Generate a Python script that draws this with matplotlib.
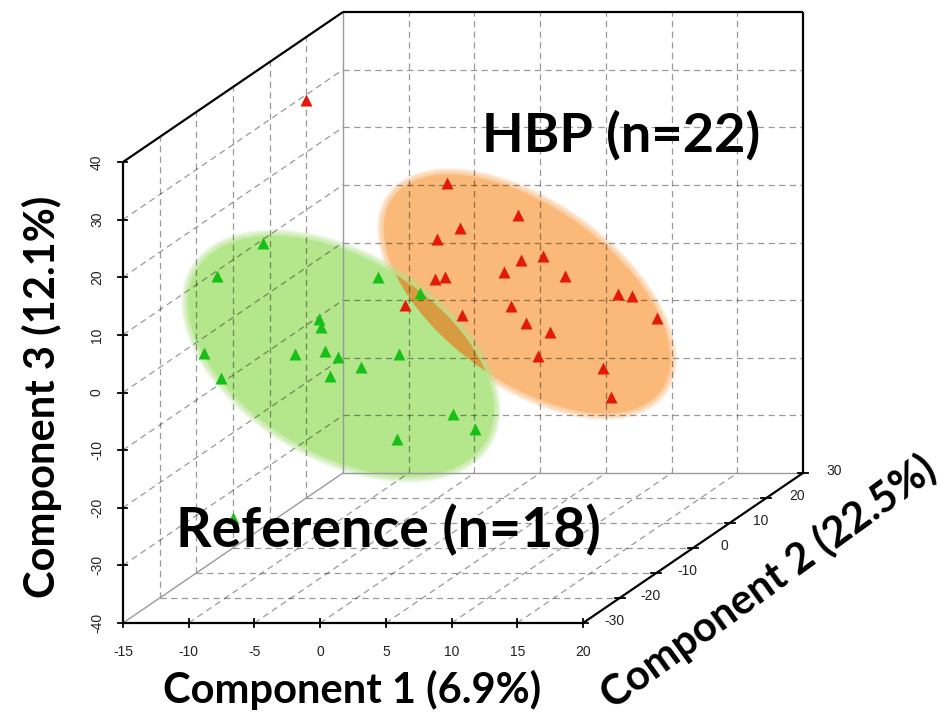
import numpy as np
import matplotlib
matplotlib.use("Agg")
import matplotlib.pyplot as plt
from matplotlib.patches import Ellipse

# PLS-DA scores (component 1, component 2, component 3)
hbp_c1 = [-15.0, -1.5, 2.5, 0.9, -2.3, 3.0, 4.1, 4.2, 6.1, -1.0, 1.1,
          8.7, 11.2, 3.4, 1.0, 4.5, 11.7, 4.9, -1.9, 5.4, 9.0, 11.0]
hbp_c2 = [20, 10, 15, 5, 10, 20, 10, 5, 15, 5, 0,
          20, 15, 10, 5, 10, 20, 15, 0, 10, 15, 10]
hbp_c3 = [29.1, 19.0, 11.3, 13.4, 9.3, 2.0, 5.6, 5.7, 0.7, 4.5, 7.0,
          -4.6, -2.8, -2.3, -1.7, -5.3, -8.8, -9.0, 2.2, -11.0, -15.3, -18.1]

ref_c1 = [-9.9, -12.0, -2.6, -0.8, -5.7, -4.1, -11.6, -7.5, -6.6, -2.8,
          -1.0, -10.3, -4.8, -1.1, 3.1, 6.2, 1.7, -8.0]
ref_c2 = [-10, -15, -5, 0, -10, -15, -20, -10, -5, -15,
          -5, -20, -10, -15, -5, -10, -15, -25]
ref_c3 = [17.3, 13.7, 9.2, 4.3, 4.1, 4.9, 2.5, -2.0, -3.6, -0.3,
          -4.2, -1.8, -5.8, -2.1, -14.6, -15.0, -14.6, -24.0]

x_ticks = list(range(-15, 21, 5))
y_ticks = list(range(-30, 31, 10))
z_ticks = list(range(-40, 41, 10))

# oblique (scatterplot3d-like) projection, in figure pixels
X0, Z0 = 123, 623
SX = 460 / 35.0
SZ = 461 / 80.0
DX, DY = 220 / 60.0, 150 / 60.0
xmin, xmax = x_ticks[0], x_ticks[-1]
ymin, ymax = y_ticks[0], y_ticks[-1]
zmin, zmax = z_ticks[0], z_ticks[-1]


def proj(x, y, z):
    x, y, z = np.asarray(x, float), np.asarray(y, float), np.asarray(z, float)
    px = X0 + (x - xmin) * SX + (y - ymin) * DX
    py = Z0 - (z - zmin) * SZ - (y - ymin) * DY
    return px, py


def seg(ax, p, q, **kw):
    a = proj(*p)
    b = proj(*q)
    ax.plot([a[0], b[0]], [a[1], b[1]], **kw)


fig = plt.figure(figsize=(9.53, 7.18), dpi=100)
ax = fig.add_axes([0, 0, 1, 1])
ax.set_xlim(0, 953)
ax.set_ylim(718, 0)
ax.axis("off")


# group ellipses with blurred edges
def soft_ellipse(xy, w, h, ang, col, z):
    for k in np.arange(14, 0, -1.5):
        ax.add_patch(Ellipse(xy, w + k, h + k, angle=ang, fc=col, ec="none",
                             alpha=0.12, zorder=z))
    e = Ellipse(xy, w, h, angle=ang, fc=col, ec="none", zorder=z)
    ax.add_patch(e)
    return e

e_orange = soft_ellipse((527, 294), 330, 174, 35.7, "#fab978", 1)
e_green = soft_ellipse((341, 356), 336, 196, 30.6, "#b4e68c", 1.1)
overlap = Ellipse((341, 356), 336, 196, angle=30.6, fc="#d89c40", ec="none",
                  zorder=1.2)
ax.add_patch(overlap)
overlap.set_clip_path(e_orange)

grid_kw = dict(color="black", alpha=0.4, lw=0.9, ls=(0, (5, 3.5)), zorder=2)
# back face
for xt in x_ticks[1:-1]:
    seg(ax, (xt, ymax, zmin), (xt, ymax, zmax), **grid_kw)
for zt in z_ticks[1:-1]:
    seg(ax, (xmin, ymax, zt), (xmax, ymax, zt), **grid_kw)
# left face
for zt in z_ticks[1:-1]:
    seg(ax, (xmin, ymin, zt), (xmin, ymax, zt), **grid_kw)
for yt in y_ticks[1:-1]:
    seg(ax, (xmin, yt, zmin), (xmin, yt, zmax), **grid_kw)
# floor
for xt in x_ticks[1:-1]:
    seg(ax, (xt, ymin, zmin), (xt, ymax, zmin), **grid_kw)
for yt in y_ticks[1:-1]:
    seg(ax, (xmin, yt, zmin), (xmax, yt, zmin), **grid_kw)

# hidden box edges
inner_kw = dict(color="#9a9a9a", lw=1.0, zorder=2)
seg(ax, (xmin, ymin, zmin), (xmin, ymax, zmin), **inner_kw)
seg(ax, (xmin, ymax, zmin), (xmax, ymax, zmin), **inner_kw)
seg(ax, (xmin, ymax, zmin), (xmin, ymax, zmax), **inner_kw)

# outer box edges
box_kw = dict(color="black", lw=1.6, zorder=4, solid_capstyle="butt")
seg(ax, (xmin, ymin, zmin), (xmin, ymin, zmax), **box_kw)
seg(ax, (xmin, ymin, zmin), (xmax, ymin, zmin), **box_kw)
seg(ax, (xmin, ymin, zmax), (xmin, ymax, zmax), **box_kw)
seg(ax, (xmin, ymax, zmax), (xmax, ymax, zmax), **box_kw)
seg(ax, (xmax, ymax, zmin), (xmax, ymax, zmax), **box_kw)
seg(ax, (xmax, ymin, zmin), (xmax, ymax, zmin), **box_kw)

# ticks and tick labels
tick_font = dict(family="Liberation Sans", size=10, color="#222222")
for xt in x_ticks:
    px, py = proj(xt, ymin, zmin)
    ax.plot([px, px], [py - 4, py + 4], color="black", lw=1.3, zorder=4)
    ax.text(px, py + 29, str(xt), ha="center", va="center", **tick_font)
for zt in z_ticks:
    px, py = proj(xmin, ymin, zt)
    ax.plot([px - 5, px + 4], [py, py], color="black", lw=1.3, zorder=4)
    ax.text(px - 26, py, str(zt), ha="center", va="center", rotation=90,
            **tick_font)
for yt in y_ticks:
    px, py = proj(xmax, yt, zmin)
    ax.plot([px - 5, px + 5], [py, py], color="black", lw=1.3, zorder=4)
    ax.text(px + 31, py - 2, str(yt), ha="center", va="center", **tick_font)

# points
hx, hy = proj(hbp_c1, hbp_c2, hbp_c3)
rx, ry = proj(ref_c1, ref_c2, ref_c3)
ax.plot(hx, hy, "^", color="#e2190b", ms=8, mec="none", zorder=5)
ax.plot(rx, ry, "^", color="#17c017", ms=8, mec="none", zorder=5)

lab_font = dict(family="Lato", weight="bold", color="black")
ax.text(621, 135, "HBP (n=22)", ha="center", va="center", size=39, zorder=6,
        **lab_font)
ax.text(388, 530, "Reference (n=18)", ha="center", va="center", size=40,
        zorder=6, **lab_font)
ax.text(352, 690, "Component 1 (6.9%)", ha="center", va="center", size=30,
        **lab_font)
ax.text(42, 397, "Component 3 (12.1%)", ha="center", va="center", size=30,
        rotation=90, **lab_font)
ax.text(768, 582, "Component 2 (22.5%)", ha="center", va="center", size=30,
        rotation=35.8, rotation_mode="anchor", **lab_font)

fig.savefig("out.png", dpi=100)
